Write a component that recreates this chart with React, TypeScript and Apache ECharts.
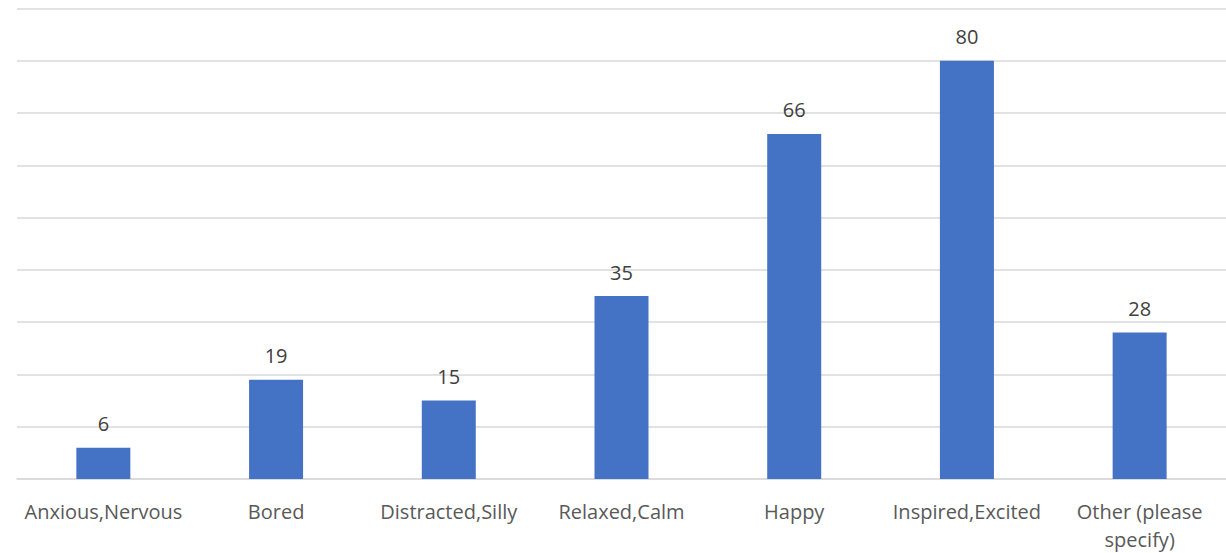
import React, { useEffect, useRef } from "react";
import * as echarts from "echarts";

const categories = [
  "Anxious,Nervous",
  "Bored",
  "Distracted,Silly",
  "Relaxed,Calm",
  "Happy",
  "Inspired,Excited",
  "Other (please\nspecify)",
];
const values = [6, 19, 15, 35, 66, 80, 28];

export default function App() {
  const ref = useRef<HTMLDivElement>(null);
  useEffect(() => {
    if (!ref.current) return;
    const chart = echarts.init(ref.current, undefined, { renderer: "svg" });
    chart.setOption({
      animation: false,
      grid: { left: 17, right: -3, top: 8.5, bottom: 72, containLabel: false },
      xAxis: {
        type: "category",
        data: categories,
        axisLine: { show: true, lineStyle: { color: "#d9d9d9", width: 1.5 } },
        axisTick: { show: false },
        axisLabel: {
          color: "#595959",
          fontSize: 20,
          fontFamily: "Open Sans",
          margin: 18,
          interval: 0,
          lineHeight: 28,
        },
      },
      yAxis: {
        type: "value",
        min: 0,
        max: 90,
        interval: 10,
        axisLine: { show: false },
        axisTick: { show: false },
        axisLabel: { show: false },
        splitLine: { lineStyle: { color: "#d9d9d9", width: 1.5 } },
      },
      series: [
        {
          type: "bar",
          data: values,
          barWidth: 54,
          itemStyle: { color: "#4472c4" },
          label: {
            show: true,
            position: "top",
            distance: 14,
            color: "#404040",
            fontSize: 20,
            fontFamily: "Open Sans",
          },
        },
      ],
    });
    return () => chart.dispose();
  }, []);
  return (
    <div
      ref={ref}
      style={{ position: "fixed", left: 0, top: 0, width: 1226, height: 553, background: "#fff" }}
    />
  );
}
